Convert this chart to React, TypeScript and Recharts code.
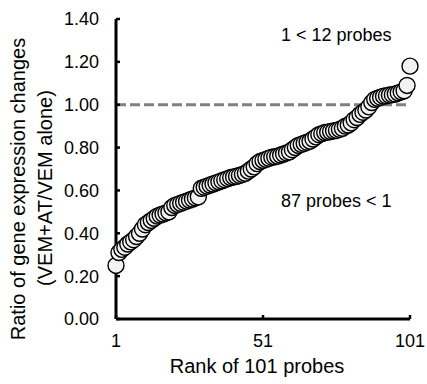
import { ScatterChart, Scatter, XAxis, YAxis, ReferenceLine } from 'recharts';

// ratio (VEM+AT / VEM alone) for each probe, sorted by rank
const ratios = [
    0.25, 0.31, 0.325, 0.335, 0.35, 0.36, 0.37, 0.385, 0.40, 0.42,
    0.44, 0.45, 0.46, 0.47, 0.48, 0.485, 0.49, 0.495, 0.50, 0.52,
    0.53, 0.535, 0.54, 0.545, 0.55, 0.555, 0.56, 0.565, 0.57, 0.61,
    0.615, 0.62, 0.625, 0.63, 0.635, 0.64, 0.645, 0.65, 0.655, 0.66,
    0.663, 0.666, 0.67, 0.675, 0.68, 0.69, 0.70, 0.71, 0.725, 0.735,
    0.74, 0.745, 0.75, 0.755, 0.757, 0.76, 0.765, 0.77, 0.775, 0.78,
    0.79, 0.80, 0.81, 0.815, 0.82, 0.825, 0.83, 0.84, 0.85, 0.86,
    0.865, 0.87, 0.872, 0.875, 0.878, 0.88, 0.885, 0.89, 0.90, 0.905,
    0.915, 0.93, 0.94, 0.955, 0.965, 0.975, 0.99, 1.01, 1.025, 1.03,
    1.035, 1.04, 1.042, 1.045, 1.047, 1.05, 1.055, 1.06, 1.065, 1.09,
    1.18,
];

const xTicks = [1, 51, 101];
const yTicks = [0, 0.2, 0.4, 0.6, 0.8, 1.0, 1.2, 1.4];

const aboveText = '1 < 12 probes';
const belowText = '87 probes < 1';
const xTitle = 'Rank of 101 probes';
const yTitle = ['Ratio of gene expression changes', '(VEM+AT/VEM alone)'];

const data = ratios.map((value, i) => ({ rank: i + 1, value }));

const FONT = '"Liberation Sans", Arial, sans-serif';

function YTick({ x, y, payload }: any) {
    return (
        <g>
            <line x1={x} x2={x + 4} y1={y} y2={y} stroke="#000" strokeWidth={2.5} />
            <text x={x - 17} y={y} dy="0.36em" textAnchor="end" fontSize={18} fill="#000" fontFamily={FONT}>
                {Number(payload.value).toFixed(2)}
            </text>
        </g>
    );
}

function XTick({ x, y, payload }: any) {
    return (
        <g>
            <line x1={x} x2={x} y1={y} y2={y - 4} stroke="#000" strokeWidth={2.5} />
            <text x={x} y={y + 28} textAnchor="middle" fontSize={18} fill="#000" fontFamily={FONT}>
                {payload.value}
            </text>
        </g>
    );
}

function Dot({ cx, cy }: any) {
    return <circle cx={cx} cy={cy} r={8} fill="#f2f2f2" stroke="#000" strokeWidth={1.4} />;
}

export default function App() {
    return (
        <div style={{ position: 'absolute', left: 0, top: 0, width: 427, height: 384, background: '#fff' }}>
            <ScatterChart width={427} height={384} margin={{ top: 19, right: 17, bottom: 0, left: 0 }} style={{ fontFamily: FONT }}>
                <XAxis
                    type="number"
                    dataKey="rank"
                    domain={[1, 101]}
                    ticks={xTicks}
                    height={65}
                    tickSize={0}
                    tickMargin={0}
                    tickLine={false}
                    axisLine={{ stroke: '#000', strokeWidth: 3 }}
                    tick={<XTick />}
                />
                <YAxis
                    type="number"
                    dataKey="value"
                    domain={[0, 1.4]}
                    ticks={yTicks}
                    width={116}
                    tickSize={0}
                    tickMargin={0}
                    tickLine={false}
                    axisLine={{ stroke: '#000', strokeWidth: 3 }}
                    tick={<YTick />}
                />
                <ReferenceLine y={1} stroke="#808080" strokeWidth={3} strokeDasharray="10 4" />
                <Scatter data={data} shape={<Dot />} isAnimationActive={false} />
                <text x={281} y={41} fontSize={18} fill="#000" fontFamily={FONT}>{aboveText}</text>
                <text x={281} y={207} fontSize={18} fill="#000" fontFamily={FONT}>{belowText}</text>
                <text x={257} y={373} textAnchor="middle" fontSize={20} fill="#000" fontFamily={FONT}>{xTitle}</text>
                <text transform="translate(25,189) rotate(-90)" textAnchor="middle" fontSize={20} fill="#000" fontFamily={FONT}>{yTitle[0]}</text>
                <text transform="translate(52,188) rotate(-90)" textAnchor="middle" fontSize={20} fill="#000" fontFamily={FONT}>{yTitle[1]}</text>
            </ScatterChart>
        </div>
    );
}
